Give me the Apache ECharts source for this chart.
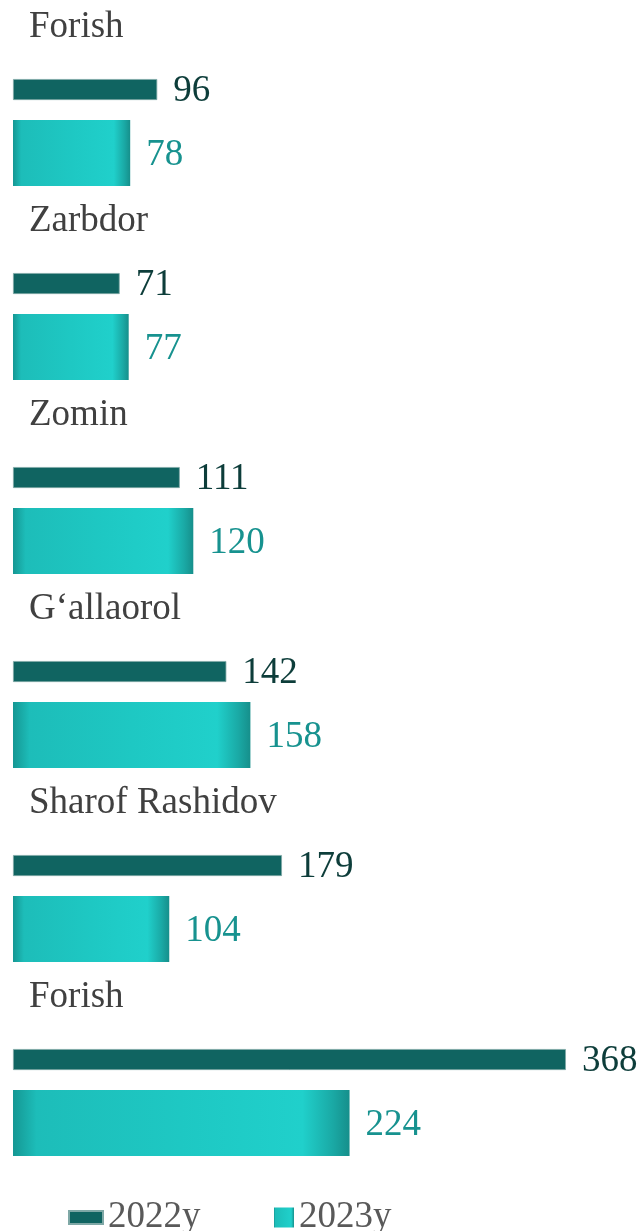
<!DOCTYPE html>
<html>
<head>
<meta charset="utf-8">
<script src="https://cdn.jsdelivr.net/npm/echarts@6/dist/echarts.min.js"></script>
<style>
html,body{margin:0;padding:0;background:#fff;}
#chart{width:640px;height:1231px;}
</style>
</head>
<body>
<div id="chart"></div>
<script>
const categories = ['Forish', 'Zarbdor', 'Zomin', 'G‘allaorol', 'Sharof Rashidov', 'Forish'];
const series2022 = [96, 71, 111, 142, 179, 368];
const series2023 = [78, 77, 120, 158, 104, 224];
const seriesNames = ['2022y', '2023y'];

const FONT = "'Liberation Serif', 'Times New Roman', serif";

const lightGrad = {
  type: 'linear', x: 0, y: 0, x2: 1, y2: 0,
  colorStops: [
    {offset: 0, color: '#159793'},
    {offset: 0.07, color: '#1dbdb9'},
    {offset: 0.5, color: '#1ec8c3'},
    {offset: 0.86, color: '#20d0cb'},
    {offset: 0.95, color: '#1aa9a5'},
    {offset: 1, color: '#168f8b'}
  ]
};

const chart = echarts.init(document.getElementById('chart'), null, {renderer: 'canvas'});
chart.setOption({
  animation: false,
  backgroundColor: '#ffffff',
  grid: {left: 13, right: 26, top: 35.5, bottom: 31.5, containLabel: false, outerBoundsMode: 'none'},
  legend: [
    {
      data: [seriesNames[0]], left: 68, top: 1199, padding: 0, icon: 'rect',
      itemWidth: 34, itemHeight: 13,
      textStyle: {fontFamily: FONT, fontSize: 37, color: '#595959'}
    },
    {
      data: [seriesNames[1]], left: 274, top: 1199, padding: 0, icon: 'rect',
      itemWidth: 20, itemHeight: 20,
      textStyle: {fontFamily: FONT, fontSize: 37, color: '#595959'}
    }
  ],
  xAxis: {
    type: 'value', min: 0, max: 400,
    axisLine: {show: false}, axisTick: {show: false},
    axisLabel: {show: false}, splitLine: {show: false}
  },
  yAxis: {
    type: 'category', data: categories, inverse: true,
    axisLine: {show: false}, axisTick: {show: false}, splitLine: {show: false},
    axisLabel: {
      inside: true, margin: 16, interval: 0,
      fontFamily: FONT, fontSize: 37, color: '#404040',
      align: 'left', verticalAlign: 'bottom',
      lineHeight: 210
    }
  },
  series: [
    {
      name: seriesNames[0], type: 'bar', data: series2022,
      barWidth: 21, barGap: '95%',
      itemStyle: {color: '#106461', borderColor: '#7fa8a6', borderWidth: 0.8},
      label: {
        show: true, position: 'right', distance: 16, offset: [0, 2],
        fontFamily: FONT, fontSize: 37, color: '#0d3d3a'
      }
    },
    {
      name: seriesNames[1], type: 'bar', data: series2023,
      barWidth: 66,
      itemStyle: {color: lightGrad},
      label: {
        show: true, position: 'right', distance: 16, offset: [0, 2],
        fontFamily: FONT, fontSize: 37, color: '#17928f'
      }
    }
  ]
});
</script>
</body>
</html>
